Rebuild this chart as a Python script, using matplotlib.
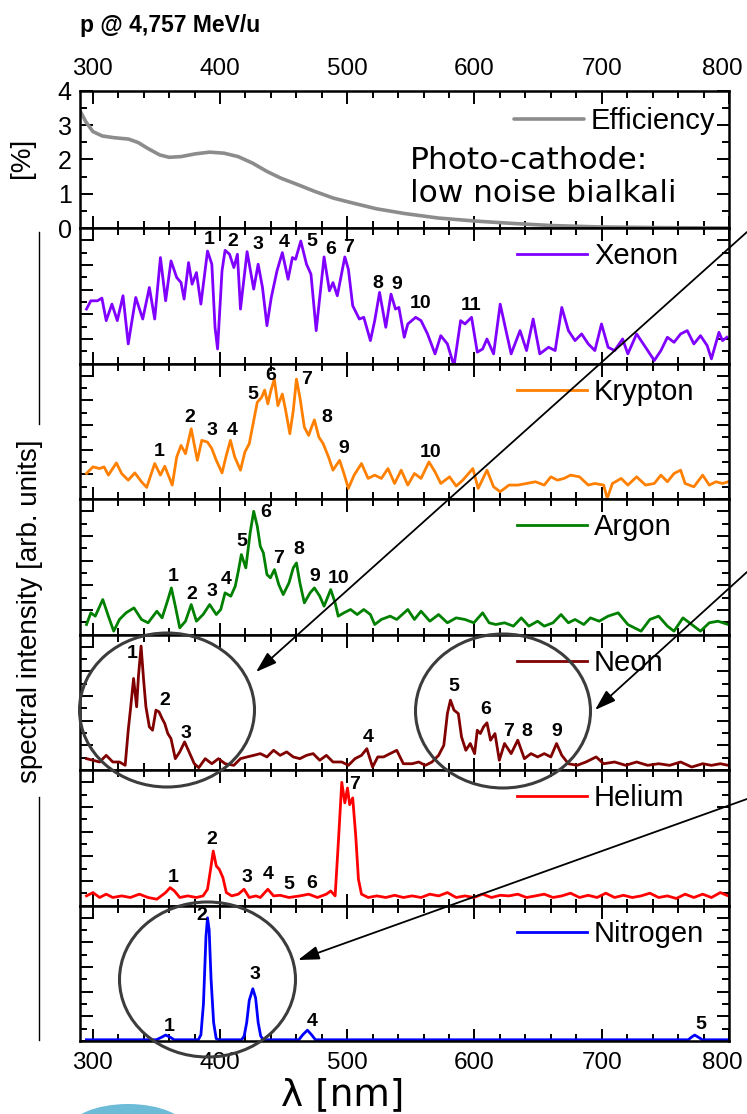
import matplotlib
matplotlib.use("Agg")
import matplotlib.pyplot as plt
from matplotlib import font_manager
from matplotlib.patches import Ellipse, FancyArrowPatch
from matplotlib.lines import Line2D
from matplotlib.transforms import Affine2D, ScaledTranslation
from matplotlib.ticker import MultipleLocator

W, H = 747, 1114

# ---------------- data ----------------
eff_wl = [290, 294.5, 300.1, 307.6, 317.0, 328.2, 335.7, 343.2, 352.6, 360.0,
          369.4, 380.6, 391.9, 403.1, 414.3, 425.6, 436.8, 448.0, 459.3, 474.2,
          489.2, 504.1, 522.9, 545.4, 571.6, 601.5, 631.5, 661.4, 698.9, 751.3, 800]
eff_val = [3.42, 3.10, 2.81, 2.68, 2.63, 2.59, 2.49, 2.32, 2.13, 2.06,
           2.08, 2.16, 2.21, 2.18, 2.08, 1.89, 1.65, 1.45, 1.29, 1.07,
           0.87, 0.73, 0.56, 0.42, 0.29, 0.20, 0.13, 0.07, 0.03, 0.01, 0.0]

xe_wl = [295.1, 298.5, 303.7, 307.2, 310.6, 315.1, 319.3, 323.8, 327.9, 333.8,
         339.3, 344.5, 348.7, 353.2, 357.3, 361.5, 366.0, 369.4, 371.8, 375.3,
         378.1, 381.5, 385.0, 390.2, 393.6, 396.1, 398.1, 401.6, 404.0, 407.5,
         410.9, 413.7, 416.1, 421.3, 426.5, 430.0, 433.4, 436.9, 440.3, 444.8,
         449.0, 453.5, 456.9, 459.4, 463.5, 468.0, 471.5, 475.6, 481.8, 486.0,
         488.8, 492.2, 498.1, 500.9, 504.3, 509.5, 513.0, 518.2, 521.6, 525.4,
         530.3, 534.4, 537.9, 540.6, 544.8, 547.6, 553.8, 558.0, 563.1, 569.0,
         573.5, 578.7, 583.9, 589.1, 592.5, 597.7, 602.2, 606.4, 609.8, 615.0,
         620.2, 623.6, 628.8, 635.8, 640.9, 646.1, 651.3, 658.2, 663.4, 668.6,
         673.8, 679.0, 684.2, 689.4, 694.6, 699.8, 705.0, 710.1, 716.4, 720.5,
         727.4, 734.4, 741.3, 746.5, 751.6, 756.8, 762.0, 767.2, 772.4, 777.6,
         782.8, 786.2, 792.1, 794.9, 798.3]
xe_val = [4.42, 5.09, 5.09, 5.31, 3.48, 4.82, 3.48, 5.50, 1.59, 5.36,
          3.61, 6.17, 3.61, 8.60, 5.09, 8.33, 6.98, 6.57, 5.23, 8.19,
          6.44, 7.38, 4.82, 9.13, 8.06, 2.94, 1.18, 7.52, 9.19, 8.87,
          7.79, 8.87, 4.42, 9.08, 6.04, 8.06, 6.17, 3.07, 5.36, 7.52,
          9.00, 6.84, 8.60, 8.46, 9.94, 8.06, 7.25, 2.67, 8.65, 5.90,
          6.57, 5.50, 8.65, 7.65, 4.69, 3.61, 3.75, 1.86, 3.48, 5.77,
          2.94, 5.63, 4.42, 4.55, 2.13, 3.21, 3.75, 3.48, 2.40, 0.78,
          2.26, 1.59, -0.2, 3.48, 3.21, 3.75, 0.92, 1.18, 1.99, 0.78,
          4.82, 3.21, 0.78, 2.67, 1.05, 3.61, 0.78, 1.32, 1.05, 4.55,
          2.67, 1.86, 2.40, 1.59, 1.05, 3.21, 1.32, 1.05, 1.99, 0.78,
          2.40, 1.32, 0.24, 1.05, 2.13, 1.72, 2.40, 2.67, 1.59, 2.26,
          1.46, 0.38, 2.53, 1.86, 2.13]

kr_wl = [295.1, 300.2, 305.4, 308.9, 312.3, 318.6, 322.7, 327.9, 333.1, 338.3,
         342.4, 348.7, 353.2, 356.6, 362.5, 366.0, 369.4, 372.9, 377.4, 382.2,
         385.7, 390.2, 393.6, 397.1, 401.6, 405.0, 408.2, 411.6, 416.1, 419.6,
         423.0, 426.5, 429.3, 432.7, 435.1, 437.6, 440.0, 442.7, 445.5, 449.0,
         451.4, 454.9, 457.6, 460.1, 462.8, 466.3, 469.7, 471.5, 474.2, 477.7,
         481.1, 485.3, 488.8, 494.0, 497.4, 500.9, 505.4, 511.2, 516.4, 521.6,
         526.8, 532.0, 537.2, 542.4, 547.6, 552.8, 558.0, 564.2, 569.0, 573.5,
         580.4, 585.6, 590.8, 598.7, 602.9, 609.8, 615.0, 620.2, 627.1, 634.0,
         640.9, 647.9, 654.8, 660.0, 665.2, 670.3, 675.5, 682.5, 689.4, 694.6,
         701.5, 704.3, 708.4, 715.3, 720.5, 727.4, 734.4, 741.3, 746.5, 751.6,
         756.8, 762.0, 765.5, 772.4, 779.3, 784.5, 789.7, 794.9, 799.4]
kr_val = [2.07, 2.61, 2.47, 2.61, 1.94, 2.93, 2.07, 1.53, 2.12, 1.40,
          0.94, 2.88, 1.94, 2.66, 1.13, 3.41, 4.35, 3.68, 5.70, 3.14,
          4.76, 4.62, 4.09, 3.14, 2.12, 3.55, 4.76, 3.41, 2.34, 3.82,
          4.49, 6.37, 7.85, 8.25, 8.84, 7.72, 8.80, 9.73, 7.58, 8.52,
          7.31, 5.30, 7.18, 9.73, 8.25, 5.83, 5.16, 5.70, 6.42, 5.03,
          4.49, 3.41, 2.34, 3.14, 2.07, 0.86, 1.94, 2.88, 1.67, 1.94,
          1.67, 2.47, 1.26, 2.34, 1.13, 2.07, 1.67, 3.01, 2.20, 1.26,
          1.80, 1.05, 1.53, 2.47, 0.86, 2.34, 0.99, 0.59, 1.13, 1.13,
          1.26, 1.40, 1.13, 1.80, 1.53, 1.67, 1.94, 1.80, 1.13, 1.26,
          1.13, 0.05, 1.26, 1.67, 1.13, 1.80, 1.13, 1.26, 1.94, 1.40,
          2.07, 2.34, 1.26, 0.99, 1.94, 1.13, 1.40, 1.26, 1.40]

ar_wl = [295.1, 298.5, 302.0, 307.9, 312.3, 316.5, 321.0, 326.2, 332.4, 338.3,
         343.5, 350.4, 354.5, 359.1, 361.8, 364.9, 368.4, 372.9, 377.4, 381.5,
         386.7, 391.9, 397.1, 400.6, 404.0, 408.5, 412.0, 414.4, 416.8, 420.3,
         423.7, 426.5, 429.3, 431.7, 434.1, 436.9, 439.6, 442.8, 446.2, 449.7,
         454.2, 457.6, 460.1, 462.8, 466.3, 470.8, 474.2, 478.4, 481.8, 487.0,
         490.5, 492.9, 497.4, 502.6, 507.8, 513.0, 518.2, 521.6, 526.8, 533.7,
         538.9, 547.6, 552.8, 558.0, 564.9, 571.8, 578.7, 585.6, 592.5, 599.5,
         606.4, 611.5, 616.7, 623.6, 630.6, 636.8, 642.7, 649.6, 654.8, 661.7,
         668.0, 673.8, 679.0, 685.9, 691.1, 698.0, 705.0, 712.9, 720.5, 730.9,
         737.8, 744.7, 751.6, 756.8, 763.8, 770.7, 777.6, 784.5, 791.4, 799.4]
ar_val = [0.81, 1.76, 1.49, 2.84, 1.49, 0.27, 1.22, 1.76, 2.16, 1.22,
          0.95, 1.89, 1.35, 2.84, 3.78, 2.30, 0.54, 1.08, 2.43, 1.08,
          1.62, 2.43, 1.62, 2.03, 3.38, 3.11, 3.92, 5.14, 6.49, 5.41,
          8.25, 10.0, 8.79, 7.16, 6.62, 4.87, 4.60, 5.27, 4.05, 3.24,
          4.19, 5.41, 5.81, 4.19, 2.57, 3.38, 3.78, 3.11, 2.30, 3.65,
          2.57, 1.49, 1.76, 2.03, 1.62, 2.03, 1.62, 0.81, 1.22, 1.49,
          1.22, 2.03, 1.22, 1.89, 1.08, 1.62, 0.95, 1.35, 1.22, 0.95,
          1.76, 0.95, 0.81, 0.95, 0.68, 1.35, 0.68, 1.08, 0.68, 0.95,
          1.62, 0.95, 1.22, 0.81, 1.35, 1.08, 1.49, 1.76, 0.81, 0.27,
          1.22, 1.49, 0.68, 0.27, 1.35, 0.81, 0.27, 0.95, 1.08, 0.81]

ne_wl = [295.1, 300.2, 305.4, 310.6, 315.8, 321.0, 325.5, 327.9, 329.6, 332.1,
         334.5, 335.9, 338.0, 340.0, 341.8, 344.5, 347.0, 349.7, 352.1, 354.5,
         356.6, 359.0, 361.5, 364.9, 368.4, 372.2, 376.3, 379.8, 383.3, 388.4,
         393.6, 398.8, 404.0, 410.9, 416.1, 421.3, 426.5, 431.7, 436.9, 442.1,
         447.3, 452.4, 457.6, 462.8, 468.0, 473.2, 478.4, 483.6, 488.8, 495.7,
         500.9, 506.1, 511.2, 515.4, 519.9, 524.0, 528.5, 533.7, 538.9, 544.1,
         551.0, 556.2, 561.4, 566.6, 571.8, 575.9, 578.7, 581.1, 583.9, 587.3,
         589.8, 593.2, 596.7, 600.1, 602.2, 604.6, 607.1, 609.8, 612.6, 616.1,
         619.5, 623.6, 628.8, 634.0, 639.2, 644.4, 649.6, 654.8, 660.0, 664.5,
         668.6, 673.8, 680.7, 687.6, 695.6, 701.5, 710.1, 718.8, 727.4, 736.1,
         744.7, 753.4, 762.0, 770.7, 779.3, 786.2, 793.2, 799.4]
ne_val = [0.92, 0.79, 0.65, 1.19, 0.65, 0.65, 0.38, 3.23, 4.86, 7.43,
          5.13, 7.57, 10.06, 7.29, 5.13, 3.50, 3.23, 4.86, 4.72, 4.18,
          3.77, 2.96, 2.55, 0.92, 1.47, 2.28, 1.33, 0.51, 0.19, 0.92,
          0.51, 0.92, 0.51, 0.38, 0.92, 1.06, 1.19, 1.33, 1.06, 1.60,
          1.19, 1.47, 1.06, 0.92, 1.19, 1.33, 0.79, 1.19, 0.65, 0.65,
          0.38, 0.92, 1.19, 1.73, 0.24, 1.06, 1.06, 1.33, 1.60, 0.51,
          0.51, 0.65, 0.38, 0.65, 1.19, 2.01, 4.58, 5.67, 4.86, 4.58,
          2.69, 1.60, 2.15, 1.33, 3.23, 2.96, 3.50, 3.83, 2.42, 2.96,
          0.79, 2.15, 1.33, 2.42, 0.92, 1.33, 1.06, 1.33, 1.06, 2.15,
          1.19, 0.51, 0.38, 0.65, 1.06, 0.51, 0.65, 0.38, 0.65, 0.38,
          0.51, 0.38, 0.65, 0.24, 0.51, 0.38, 0.51, 0.38]

he_wl = [295.1, 300.2, 305.4, 310.6, 315.8, 322.7, 329.6, 336.6, 343.5, 350.4,
         357.3, 360.8, 364.2, 368.4, 374.6, 381.5, 386.7, 390.2, 392.6, 394.7,
         397.1, 399.5, 402.3, 405.0, 409.2, 414.4, 418.9, 423.0, 428.2, 431.7,
         437.6, 442.1, 447.3, 454.2, 462.8, 469.7, 476.6, 483.6, 487.0, 490.5,
         493.3, 495.7, 498.1, 500.2, 501.9, 504.3, 506.7, 508.8, 511.2, 516.4,
         523.3, 530.3, 537.2, 544.1, 551.0, 558.0, 564.9, 571.8, 578.7, 585.6,
         592.5, 599.5, 606.4, 613.3, 620.2, 627.1, 634.0, 640.9, 647.9, 654.8,
         661.7, 668.6, 675.5, 682.5, 689.4, 696.3, 703.2, 710.1, 717.1, 724.0,
         730.9, 737.8, 744.7, 751.6, 758.6, 765.5, 772.4, 779.3, 786.2, 793.2,
         799.4]
he_val = [0.78, 1.05, 0.65, 0.92, 0.65, 0.78, 0.65, 0.92, 0.65, 0.51,
          1.05, 1.45, 1.18, 0.65, 0.78, 0.65, 0.78, 1.32, 2.93, 4.42,
          3.21, 2.93, 2.26, 1.05, 0.78, 0.92, 1.32, 0.65, 0.78, 0.65,
          1.32, 0.78, 0.83, 0.65, 0.78, 0.92, 0.65, 0.92, 1.18, 0.78,
          5.63, 10.0, 8.33, 9.54, 8.19, 8.73, 5.63, 2.13, 0.92, 0.65,
          0.78, 0.65, 0.83, 0.65, 0.78, 0.65, 0.92, 0.78, 1.05, 0.65,
          0.78, 0.65, 0.92, 0.65, 0.83, 0.78, 0.92, 0.65, 0.78, 0.92,
          0.65, 0.78, 1.00, 0.65, 0.83, 0.65, 1.00, 0.65, 0.83, 0.65,
          0.78, 1.00, 0.65, 0.78, 0.57, 0.92, 0.65, 0.92, 0.65, 1.05,
          0.78]

n2_wl = [295, 350, 354, 357.3, 361, 364, 383, 385, 387, 389, 390.2, 391.5,
         393, 395, 397, 399, 417, 419, 421, 423, 425.8, 428, 430, 432, 434,
         462, 465, 468.7, 472, 475, 768, 771, 773.1, 776, 779, 800]
n2_val = [0.1, 0.1, 0.3, 0.48, 0.3, 0.1, 0.1, 0.5, 3.0, 8.5, 10.0, 9.0,
          5.0, 1.5, 0.2, 0.1, 0.1, 0.4, 1.5, 3.3, 4.24, 3.5, 1.5, 0.4, 0.1,
          0.1, 0.5, 0.88, 0.5, 0.1, 0.1, 0.35, 0.48, 0.3, 0.1, 0.1]

# numbered emission lines: (wavelength, height of the number)
xe_peaks = [(391.9, 10.08), (410.2, 9.89), (430.0, 9.62), (450.7, 9.81), (472.2, 9.89),
            (487.0, 9.27), (500.9, 9.40), (524.4, 6.49), (538.9, 6.44), (557.9, 4.88),
            (597.0, 4.69)]
kr_peaks = [(352.1, 3.82), (376.3, 6.64), (393.6, 5.56), (409.2, 5.56), (425.5, 8.52),
            (439.6, 10.0), (468.0, 9.73), (483.6, 6.64), (497.4, 4.09), (565.5, 3.74)]
ar_peaks = [(363.5, 4.73), (378.1, 3.25), (393.6, 3.46), (405.0, 4.46), (417.2, 7.57),
            (436.2, 9.92), (446.2, 6.14), (461.8, 6.89), (474.2, 4.73), (492.9, 4.52)]
ne_peaks = [(331.4, 9.46), (356.6, 5.67), (373.6, 2.96), (516.4, 2.63), (583.9, 6.75),
            (609.1, 4.94), (626.4, 3.09), (641.0, 3.09), (664.5, 3.09)]
he_peaks = [(363.5, 2.26), (393.6, 5.36), (421.3, 2.26), (437.6, 2.53), (454.2, 1.72),
            (472.2, 1.80), (505.4, 9.81)]
n2_peaks = [(360.1, 1.21), (385.7, 10.19), (427.2, 5.36), (472.2, 1.61), (777.6, 1.34)]

gases = ["Xenon", "Krypton", "Argon", "Neon", "Helium", "Nitrogen"]
gas_colors = ["#8000ff", "#ff8000", "#008000", "#800000", "#ff0000", "#0000ff"]
gas_wl = [xe_wl, kr_wl, ar_wl, ne_wl, he_wl, n2_wl]
gas_val = [xe_val, kr_val, ar_val, ne_val, he_val, n2_val]
gas_peaks = [xe_peaks, kr_peaks, ar_peaks, ne_peaks, he_peaks, n2_peaks]

# ---------------- fonts ----------------
_names = {f.name for f in font_manager.fontManager.ttflist}
SANS = "Liberation Sans" if "Liberation Sans" in _names else "DejaVu Sans"
NARROW = "Liberation Sans Narrow" if "Liberation Sans Narrow" in _names else SANS

# ---------------- figure ----------------
fig = plt.figure(figsize=(W / 100, H / 100), dpi=100)
# pixel coordinates measured from the top-left corner of the canvas
pix = Affine2D().scale(1.0 / W, -1.0 / H).translate(0, 1) + fig.transFigure


def rect(x0, y0, x1, y1):
    return [x0 / W, 1 - y1 / H, (x1 - x0) / W, (y1 - y0) / H]


X0, X1 = 80, 729
ax_eff = fig.add_axes(rect(X0, 90.7, X1, 228))
panel_h = (1041 - 228) / 6.0
axes = [fig.add_axes(rect(X0, 228 + i * panel_h, X1, 228 + (i + 1) * panel_h))
        for i in range(6)]


def style(ax):
    ax.set_xlim(290, 800)
    ax.xaxis.set_major_locator(MultipleLocator(100))
    ax.xaxis.set_minor_locator(MultipleLocator(20))
    ax.tick_params(which="both", direction="in", top=True, bottom=True,
                   left=True, right=True, width=1.4, colors="black",
                   labelbottom=False, labeltop=False, labelleft=False,
                   labelsize=17.5, labelfontfamily=NARROW, pad=8)
    ax.tick_params(which="major", length=9)
    ax.tick_params(which="minor", length=5)
    for s in ax.spines.values():
        s.set_linewidth(1.8)


# photocathode efficiency
style(ax_eff)
ax_eff.set_ylim(0, 4)
ax_eff.yaxis.set_major_locator(MultipleLocator(1))
ax_eff.yaxis.set_minor_locator(MultipleLocator(0.5))
ax_eff.tick_params(labeltop=True, labelleft=True)
ax_eff.tick_params(axis="y", pad=6, labelsize=18)
ax_eff.plot(eff_wl, eff_val, color="#8c8c8c", lw=2.6, label="Efficiency",
            solid_capstyle="round")
ax_eff.legend(loc="center left", bbox_to_anchor=(0.668, 0.78), frameon=False,
              prop={"family": SANS, "size": 21}, handlelength=2.4,
              handletextpad=0.25, borderpad=0, borderaxespad=0)
ax_eff.text(549.3, 1.49, "Photo-cathode:\nlow noise bialkali", family="DejaVu Sans",
            fontsize=22.5, ha="left", va="center", linespacing=1.15)

# gas spectra
for ax, name, color, wl, val, peaks in zip(axes, gases, gas_colors, gas_wl,
                                           gas_val, gas_peaks):
    style(ax)
    ax.set_ylim(0, 11)
    ax.yaxis.set_major_locator(MultipleLocator(2))
    ax.yaxis.set_minor_locator(MultipleLocator(1))
    ax.plot(wl, val, color=color, lw=2.0, label=name)
    ax.legend(loc="center left", bbox_to_anchor=(0.673, 0.79), frameon=False,
              prop={"family": SANS, "size": 21}, handlelength=2.4,
              handletextpad=0.25, borderpad=0, borderaxespad=0)
    for i, (px, py) in enumerate(peaks):
        ax.text(px, py, str(i + 1), ha="center", va="center", fontsize=14,
                fontweight="bold", family=NARROW)

axes[-1].tick_params(labelbottom=True)

# keep the rightmost wavelength labels inside the canvas
fig.canvas.draw()
nudge = ScaledTranslation(-5 / 72.0, 0, fig.dpi_scale_trans)
for ax in (ax_eff, axes[-1]):
    for t in ax.xaxis.get_major_ticks():
        if abs(t.get_loc() - 800) < 1e-6:
            t.label1.set_transform(t.label1.get_transform() + nudge)
            t.label2.set_transform(t.label2.get_transform() + nudge)

# titles and axis labels
fig.text(80 / W, 1 - 32 / H, "p @ 4,757 MeV/u", fontsize=16.5, fontweight="bold",
         family=NARROW, ha="left", va="baseline")
fig.text(22 / W, 1 - 158 / H, "[%]", rotation=90, fontsize=20, family=SANS,
         ha="center", va="center")
fig.text(30 / W, 1 - 611 / H, "spectral intensity [arb. units]", rotation=90,
         fontsize=20, family=SANS, ha="center", va="center")
fig.text(343 / W, 1 - 1095 / H, "λ [nm]", fontsize=27, family="DejaVu Sans",
         ha="center", va="center")

# bracket lines beside the intensity label
fig.add_artist(Line2D([39, 39], [232, 424], transform=pix, color="black", lw=1.0))
fig.add_artist(Line2D([39, 39], [797, 1040], transform=pix, color="black", lw=1.0))

# highlight circles
for cx, cy, w, h in [(167, 710, 175, 154), (503, 711, 175, 154), (207.5, 979.5, 176, 155)]:
    fig.add_artist(Ellipse((cx, cy), w, h, transform=pix, fill=False,
                           edgecolor="#3c3c3c", lw=2.2, zorder=5))

# arrows pointing at the circles
for (xa, ya), (xb, yb) in [((747, 232), (256, 672)),
                           ((747, 572), (595, 710)),
                           ((747, 799), (298, 960))]:
    fig.add_artist(FancyArrowPatch((xa, ya), (xb, yb), transform=pix,
                                   arrowstyle="-|>,head_length=0.4,head_width=0.13",
                                   mutation_scale=32, color="black", lw=1.3,
                                   shrinkA=0, shrinkB=0, zorder=6))

# logo fragment at bottom left
fig.add_artist(Ellipse((128, 1130), 118, 52, transform=pix, facecolor="#6cbcd8",
                       edgecolor="none", zorder=1))

fig.savefig("out.png", dpi=100)
